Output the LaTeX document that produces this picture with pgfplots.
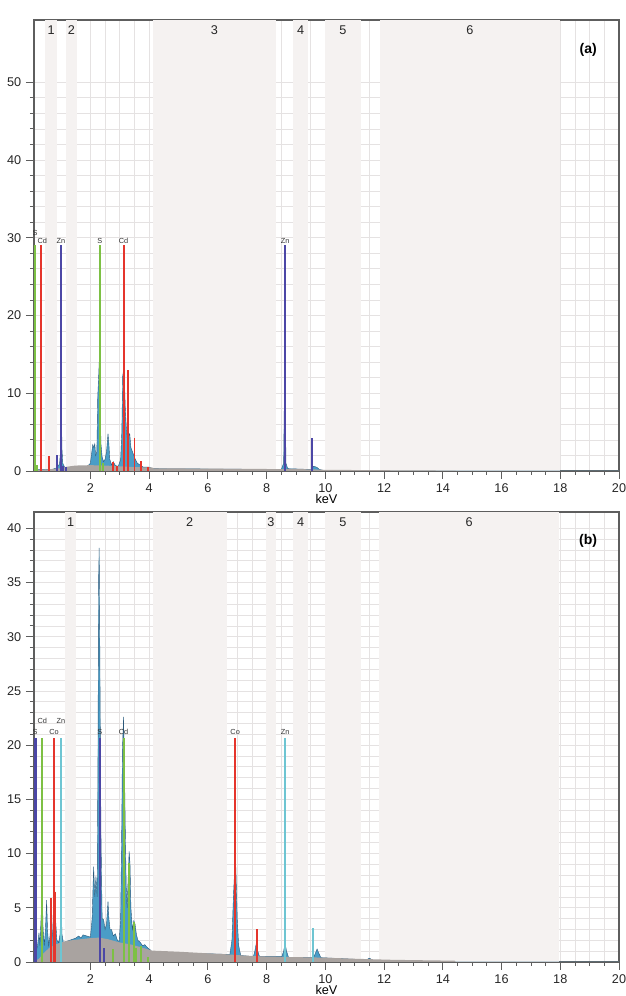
\documentclass[border=0pt]{standalone}
\usepackage{pgfplots}
\pgfplotsset{compat=1.18}
\usepackage{fontspec}
\setmainfont{Liberation Sans}
\definecolor{bandc}{HTML}{F5F2F1}
\definecolor{gridc}{HTML}{E5E2E2}
\definecolor{axc}{HTML}{5E5E5E}
\definecolor{specfill}{HTML}{4A9DC7}
\definecolor{specline}{HTML}{2B587A}
\definecolor{bgfill}{HTML}{A9A3A0}
\definecolor{mgreen}{HTML}{7DC044}
\definecolor{mred}{HTML}{E5352C}
\definecolor{mnavy}{HTML}{4C47A6}
\definecolor{mcyan}{HTML}{6EC5D2}
\tikzset{
  elab/.style={font=\fontsize{5.5}{6}\selectfont, text=black!80, inner sep=0.5pt, anchor=south},
  blab/.style={font=\fontsize{9.5}{11}\selectfont, text=black!85, anchor=north, inner sep=0pt, yshift=-4pt},
  mk/.style={ycomb, draw=#1, line width=1.4pt},
}
\pgfplotsset{
  edsaxis/.style={
    scale only axis, width=438.75pt,
    xmin=0.08, xmax=20, ymin=0,
    xtick={2,4,...,20}, minor x tick num=3,
    tick pos=left, tick align=outside,
    major tick length=6pt, minor tick length=3pt,
    grid=both,
    major grid style={draw=gridc, line width=0.5pt},
    minor grid style={draw=gridc, line width=0.5pt},
    axis line style={draw=axc, line width=0.8pt},
    every tick/.style={draw=axc, line width=0.6pt},
    tick label style={font=\fontsize{9.5}{11}\selectfont, text=black!85},
    /pgf/number format/assume math mode=true,
    xlabel={keV}, xlabel style={font=\fontsize{9.5}{11}\selectfont, yshift=5.5pt},
    clip=true,
  },
}
\begin{document}
\begin{tikzpicture}
\useasboundingbox (0,0) rectangle (468.75pt,747pt);
% ---------------- (a) ----------------
\begin{axis}[edsaxis, at={(25.5pt,393.75pt)}, anchor=south west,
  height=338.25pt, ymax=58,
  ytick={0,10,...,50}, minor y tick num=4]
\fill[bandc] (axis cs:0.46,0) rectangle (axis cs:0.86,58);
\fill[bandc] (axis cs:1.17,0) rectangle (axis cs:1.54,58);
\fill[bandc] (axis cs:4.12,0) rectangle (axis cs:8.32,58);
\fill[bandc] (axis cs:8.90,0) rectangle (axis cs:9.42,58);
\fill[bandc] (axis cs:10.0,0) rectangle (axis cs:11.2,58);
\fill[bandc] (axis cs:11.85,0) rectangle (axis cs:18.0,58);
\node[blab] at (axis cs:0.66,58) {1};
\node[blab] at (axis cs:1.35,58) {2};
\node[blab] at (axis cs:6.22,58) {3};
\node[blab] at (axis cs:9.16,58) {4};
\node[blab] at (axis cs:10.6,58) {5};
\node[blab] at (axis cs:14.92,58) {6};
% spectrum
\addplot[fill=specfill, draw=specline, line width=0.3pt] coordinates {
(0.08,0) (0.10,0.6) (0.13,0.8) (0.16,0.5) (0.20,0.2) (0.30,0.15) (0.50,0.2) (0.70,0.2)
(0.85,0.4) (0.95,0.9) (0.99,3) (1.01,11.3) (1.03,3) (1.06,1.0) (1.12,0.5) (1.20,0.4)
(1.90,0.6) (2.00,1.0) (2.05,2.5) (2.08,3.4) (2.12,3.0) (2.15,3.5) (2.18,2.0) (2.22,2.5)
(2.25,9.5) (2.28,12) (2.31,15.0) (2.33,9) (2.36,3.5) (2.40,1.8) (2.45,1.2) (2.50,1.5)
(2.55,2.5) (2.60,4.8) (2.63,3.5) (2.66,1.5) (2.72,0.8) (2.78,1.2) (2.85,0.7) (2.95,0.6)
(3.03,1.5) (3.07,5) (3.10,12.2) (3.13,13.0) (3.16,11.5) (3.19,8) (3.22,5.8) (3.26,4)
(3.30,4.5) (3.34,4.8) (3.38,3) (3.43,2.5) (3.48,2.0) (3.53,1.5) (3.60,1.0) (3.68,0.8)
(3.80,0.5) (4.00,0.5) (4.10,0.3) (8.50,0.2) (8.58,1) (8.62,14.7) (8.66,1) (8.72,0.3)
(9.50,0.2) (9.55,0.3) (9.60,0.6) (9.70,0.5) (9.80,0.2) (10.0,0) (20,0)
} \closedcycle;
% background
\addplot[fill=bgfill, draw=none] coordinates {
(0.08,0) (0.2,0.1) (0.5,0.2) (1.0,0.35) (1.2,0.55) (1.5,0.7) (2.0,0.75) (2.5,0.7)
(3.0,0.6) (3.5,0.5) (4.1,0.45) (4.15,0.35) (6.0,0.3) (8.3,0.25) (9.5,0.22) (10,0.15)
(12,0.1) (14.4,0.05) (14.5,0) (20,0)
} \closedcycle;
% markers
\addplot[mk=mgreen] coordinates {(0.12,29) (2.32,29) (2.44,1.0) (0.17,0.8)};
\addplot[mk=mred] coordinates {(0.31,29) (3.135,29) (0.60,1.9) (2.76,1.2) (2.92,0.6) (3.29,13.0) (3.50,4.2) (3.72,1.3) (3.97,0.5)};
\addplot[mk=mnavy] coordinates {(1.0,29) (8.63,29) (0.87,2.0) (1.08,0.7) (1.17,0.5) (9.55,4.3)};
\node[elab] at (axis cs:0.12,30.2) {S};
\node[elab] at (axis cs:0.36,29.1) {Cd};
\node[elab] at (axis cs:1.0,29.1) {Zn};
\node[elab] at (axis cs:2.32,29.1) {S};
\node[elab] at (axis cs:3.13,29.1) {Cd};
\node[elab] at (axis cs:8.63,29.1) {Zn};
\node[font=\bfseries\fontsize{10.5}{12}\selectfont] at (axis cs:18.95,54.2) {(a)};
\node[anchor=south west, inner sep=1pt, font=\fontsize{9.5}{11}\selectfont] at (rel axis cs:0,1) {cps/eV};
\end{axis}
% ---------------- (b) ----------------
\begin{axis}[edsaxis, at={(25.5pt,25.5pt)}, anchor=south west,
  height=337.5pt, ymax=41.5,
  ytick={0,5,...,40}, minor y tick num=4]
\fill[bandc] (axis cs:1.14,0) rectangle (axis cs:1.52,41.5);
\fill[bandc] (axis cs:4.12,0) rectangle (axis cs:6.64,41.5);
\fill[bandc] (axis cs:7.97,0) rectangle (axis cs:8.32,41.5);
\fill[bandc] (axis cs:8.90,0) rectangle (axis cs:9.42,41.5);
\fill[bandc] (axis cs:10.0,0) rectangle (axis cs:11.2,41.5);
\fill[bandc] (axis cs:11.82,0) rectangle (axis cs:17.97,41.5);
\node[blab] at (axis cs:1.33,41.5) {1};
\node[blab] at (axis cs:5.38,41.5) {2};
\node[blab] at (axis cs:8.15,41.5) {3};
\node[blab] at (axis cs:9.16,41.5) {4};
\node[blab] at (axis cs:10.6,41.5) {5};
\node[blab] at (axis cs:14.9,41.5) {6};
\addplot[fill=specfill, draw=specline, line width=0.3pt] coordinates {
(0.08,0.5) (0.12,2.0) (0.16,1.0) (0.20,1.5) (0.25,2.7) (0.28,1.5) (0.32,4) (0.36,6.7)
(0.39,3) (0.43,1.5) (0.47,3) (0.51,5.7) (0.54,3) (0.58,1.5) (0.63,2.5) (0.67,5.9)
(0.70,3) (0.74,2) (0.79,6.5) (0.82,3.7) (0.86,2.0) (0.92,1.8) (0.97,2.6) (1.00,8.1)
(1.03,2.6) (1.08,1.8) (1.50,2.2) (1.60,2.4) (1.68,2.2) (1.75,2.5) (2.00,2.3) (2.06,4)
(2.11,8.8) (2.15,6) (2.19,7.9) (2.23,6) (2.26,20) (2.28,35.3) (2.30,38.2) (2.33,25)
(2.36,12) (2.40,4) (2.45,3.9) (2.50,3.0) (2.55,3.5) (2.60,5.6) (2.63,4) (2.67,3)
(2.72,3.0) (2.78,2.4) (2.85,2.6) (2.92,2.0) (2.98,1.9) (3.03,4) (3.07,13) (3.09,19.5)
(3.13,22.6) (3.16,18) (3.19,12) (3.22,7) (3.25,5) (3.29,8) (3.32,10.2) (3.35,9)
(3.38,5) (3.43,3) (3.48,3.8) (3.52,3.5) (3.57,2.5) (3.62,2.0) (3.70,1.8) (3.78,1.5)
(3.85,1.6) (3.95,1.3) (4.05,1.1) (4.10,0.9) (6.75,0.7) (6.82,2) (6.87,6) (6.90,7.8)
(6.93,10.6) (6.96,8) (7.00,4) (7.05,1.5) (7.12,0.6) (7.55,0.5) (7.60,1.0) (7.65,1.75)
(7.70,1.0) (7.76,0.5) (8.52,0.5) (8.58,1.0) (8.63,1.7) (8.68,1.0) (8.75,0.4) (9.60,0.4)
(9.66,0.8) (9.72,1.2) (9.78,0.8) (9.85,0.4) (11.4,0.2) (11.5,0.35) (11.6,0.2) (11.7,0)
(20,0)
} \closedcycle;
\addplot[fill=bgfill, draw=none] coordinates {
(0.08,0) (0.25,0.3) (0.4,0.8) (0.6,1.3) (0.8,1.6) (1.0,1.8) (1.2,1.95) (1.5,2.05)
(2.0,2.2) (2.3,2.25) (2.6,2.1) (3.0,1.8) (3.4,1.6) (3.8,1.3) (4.1,1.05) (5.0,0.95)
(6.0,0.8) (6.7,0.7) (7.2,0.6) (8.0,0.5) (9.0,0.45) (10.0,0.4) (11.0,0.3) (12.3,0.2)
(14.4,0.12) (14.45,0) (20,0)
} \closedcycle;
\addplot[mk=mnavy] coordinates {(0.12,20.7) (0.15,20.7) (2.32,20.7) (2.47,1.3)};
\addplot[mk=mgreen] coordinates {(0.34,20.7) (3.135,20.7) (2.78,1.2) (3.31,9.1) (3.48,3.7) (3.56,1.3) (3.72,1.5) (3.95,0.5)};
\addplot[mk=mred] coordinates {(0.76,20.7) (6.93,20.7) (0.66,5.9) (0.79,6.5) (7.66,3.0)};
\addplot[mk=mcyan] coordinates {(1.0,20.7) (8.63,20.7) (9.57,3.1)};
\node[elab] at (axis cs:0.12,20.9) {S};
\node[elab] at (axis cs:0.36,21.9) {Cd};
\node[elab] at (axis cs:0.76,20.9) {Co};
\node[elab] at (axis cs:1.0,21.9) {Zn};
\node[elab] at (axis cs:2.32,20.9) {S};
\node[elab] at (axis cs:3.13,20.9) {Cd};
\node[elab] at (axis cs:6.93,20.9) {Co};
\node[elab] at (axis cs:8.63,20.9) {Zn};
\node[font=\bfseries\fontsize{10.5}{12}\selectfont] at (axis cs:18.95,38.8) {(b)};
\node[anchor=south west, inner sep=1pt, font=\fontsize{9.5}{11}\selectfont] at (rel axis cs:0,1) {cps/eV};
\end{axis}
\end{tikzpicture}
\end{document}
